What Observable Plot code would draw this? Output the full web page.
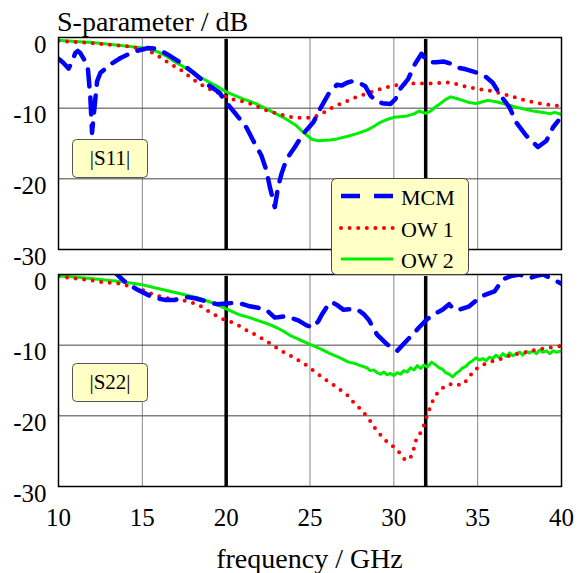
<!DOCTYPE html>
<html><head><meta charset="utf-8">
<script src="https://cdn.jsdelivr.net/npm/d3@7"></script>
<script src="https://cdn.jsdelivr.net/npm/@observablehq/plot@0.6"></script>
<style>
body{margin:0;background:#fff;}
#wrap{position:relative;width:587px;height:573px;color:#000;}
#wrap .txt{position:absolute;line-height:1;white-space:nowrap;}
#overlay{position:absolute;left:0;top:0;pointer-events:none;}
</style></head><body><div id="wrap" style="font-family:'Liberation Serif' !important"></div>
<script>
// ---------- data ----------
const panels = ["S11", "S22"];
const panelLabels = ["|S11|", "|S22|"];
const seriesNames = ["MCM", "OW 1", "OW 2"];
const xTicks = [10, 15, 20, 25, 30, 35, 40];
const yTicks = [0, -10, -20, -30];
const markerFreqs = [20, 31.9];
const yAxisTitle = "S-parameter / dB";
const xAxisTitle = "frequency / GHz";

// |S11|
const s11MCM = [[10,-3.0],[10.3,-3.6],[10.6,-4.4],[10.8,-3.5],[11.0,-2.2],[11.15,-1.9],[11.3,-2.2],[11.55,-3.2],[11.75,-4.3],[11.9,-8.5],[12.0,-13.5],[12.1,-11],[12.3,-6.2],[12.5,-5.0],[13.1,-3.8],[13.7,-2.9],[14.5,-2.0],[15.3,-1.5],[15.9,-1.6],[16.5,-2.4],[17.3,-3.6],[18.05,-5.0],[18.85,-6.6],[19.6,-7.8],[20.0,-9.2],[20.6,-10.9],[21.2,-12.7],[21.7,-15.0],[22.1,-16.7],[22.4,-18.8],[22.6,-21.1],[22.9,-24.0],[23.1,-21.1],[23.3,-19.3],[23.6,-17.2],[24.1,-15.5],[24.6,-13.6],[25.2,-12.0],[25.6,-10.1],[26.1,-8.0],[26.6,-6.7],[26.9,-6.8],[27.2,-6.4],[27.5,-6.2],[28.0,-6.5],[28.3,-6.9],[28.6,-8.2],[28.9,-8.9],[29.3,-9.3],[29.8,-9.4],[30.1,-8.7],[30.3,-7.5],[30.85,-5.9],[31.25,-3.8],[31.65,-2.3],[31.85,-2.9],[32.1,-3.5],[32.5,-3.5],[33.0,-3.4],[33.4,-3.7],[33.9,-4.3],[34.3,-4.5],[35.1,-5.1],[35.5,-5.6],[35.9,-6.4],[36.4,-8.3],[36.9,-9.9],[37.3,-12.0],[37.9,-13.9],[38.6,-15.5],[39.1,-14.6],[39.5,-12.7],[39.8,-11.8]];
const s11OW1 = [[10,-0.45],[10.5,-0.55],[11.5,-0.7],[12.7,-0.95],[13.5,-1.1],[14.3,-1.3],[15.3,-1.8],[15.8,-2.4],[16.25,-3.1],[16.8,-3.9],[17.3,-4.6],[17.9,-5.7],[18.45,-6.6],[19.0,-7.3],[19.5,-7.8],[20.0,-8.4],[20.5,-8.8],[21.1,-9.1],[21.6,-9.5],[22.1,-10.05],[22.6,-10.5],[23.1,-10.8],[23.6,-11.1],[24.1,-11.35],[24.7,-11.4],[25.2,-11.3],[25.7,-10.8],[26.2,-10.1],[26.7,-9.5],[27.2,-9.0],[27.7,-8.5],[28.2,-8.1],[28.7,-7.7],[29.2,-7.3],[29.8,-6.9],[30.5,-6.6],[31.35,-6.5],[32.3,-6.5],[33.3,-6.35],[33.9,-6.7],[34.4,-7.0],[34.9,-7.25],[35.4,-7.4],[35.9,-7.6],[36.5,-8.0],[37.0,-8.3],[37.5,-8.7],[38.0,-9.0],[38.6,-9.3],[39.1,-9.5],[39.5,-9.6],[40,-9.7]];
const s11OW2 = [[10,-0.4],[11,-0.55],[12,-0.7],[13,-0.95],[14,-1.2],[15.1,-1.5],[15.9,-2.0],[16.4,-2.6],[16.9,-3.4],[17.5,-4.2],[18.0,-5.0],[18.6,-5.8],[19.2,-6.6],[19.6,-7.1],[20.0,-7.7],[20.5,-8.2],[21.0,-8.7],[21.4,-9.0],[21.8,-9.4],[22.4,-10.1],[22.9,-10.7],[23.4,-11.3],[23.8,-11.9],[24.2,-12.5],[24.5,-13.2],[24.8,-13.8],[25.1,-14.4],[25.5,-14.6],[26.2,-14.5],[26.6,-14.35],[27.2,-14.0],[27.8,-13.6],[28.4,-13.1],[28.8,-12.6],[29.2,-12.0],[29.6,-11.6],[30.0,-11.3],[30.4,-11.2],[30.8,-11.1],[31.2,-10.8],[31.5,-10.4],[31.9,-10.75],[32.2,-10.4],[32.5,-9.8],[32.8,-9.3],[33.1,-8.75],[33.4,-8.4],[33.7,-8.6],[34.1,-8.9],[34.5,-9.2],[34.9,-9.35],[35.3,-9.1],[35.6,-8.9],[36.1,-9.1],[36.7,-9.45],[37.2,-9.8],[37.7,-10.1],[38.3,-10.4],[38.9,-10.6],[39.3,-10.8],[39.6,-10.6],[40,-10.9]];

// |S22|
const s22MCM = [[13.2,0.6],[13.5,0],[13.9,-0.9],[14.2,-1.4],[14.6,-2.0],[15.1,-2.6],[15.5,-3.1],[15.9,-3.4],[16.4,-3.6],[16.9,-3.6],[17.3,-3.4],[17.7,-3.2],[18.2,-3.4],[18.65,-3.7],[19.45,-4.2],[20.0,-4.1],[20.6,-4.0],[21.0,-4.2],[21.4,-4.5],[21.9,-4.7],[22.4,-5.0],[22.9,-6.1],[23.2,-6.0],[23.6,-5.9],[24.3,-6.5],[24.8,-7.2],[25.2,-7.5],[25.5,-6.6],[25.7,-5.7],[26.0,-4.6],[26.3,-3.9],[26.6,-4.3],[27.0,-5.0],[27.4,-4.9],[27.8,-4.9],[28.2,-5.6],[28.5,-6.4],[29.0,-8.5],[29.6,-9.9],[30.2,-10.8],[30.75,-9.4],[31.2,-8.3],[31.5,-7.5],[31.95,-6.4],[32.4,-5.6],[32.9,-5.0],[33.3,-4.2],[33.6,-5.0],[34.0,-4.9],[34.5,-4.5],[35.2,-3.1],[36.0,-2.4],[36.5,-0.7],[37.0,-0.2],[37.5,0],[38.1,-0.5],[38.5,-0.2],[38.9,0],[39.5,-0.7],[40,-1.3]];
const s22OW1 = [[10,-0.3],[11.1,-0.6],[12.0,-0.85],[12.7,-1.1],[13.7,-1.3],[14.3,-1.7],[14.9,-2.1],[15.4,-2.6],[15.9,-3.0],[16.4,-3.3],[16.9,-3.5],[17.5,-3.7],[18.0,-4.0],[18.5,-4.5],[18.95,-5.2],[19.4,-5.8],[19.8,-6.3],[20.4,-6.8],[20.8,-7.3],[21.3,-8.0],[21.8,-8.6],[22.3,-9.3],[22.8,-10.0],[23.2,-10.7],[23.7,-11.3],[24.2,-12.0],[24.7,-12.7],[25.1,-13.4],[25.6,-14.3],[26.0,-15.0],[26.45,-15.7],[26.9,-16.5],[27.3,-17.2],[27.6,-18.1],[28.0,-19.0],[28.4,-20.1],[28.7,-21.1],[29.0,-22.2],[29.3,-22.9],[29.6,-23.7],[30.0,-24.4],[30.3,-25.1],[30.65,-26.2],[30.85,-26.3],[31.05,-25.7],[31.2,-24.6],[31.35,-23.2],[31.65,-22.2],[31.85,-21.0],[32.0,-19.8],[32.2,-18.6],[32.4,-17.4],[32.7,-16.5],[33.1,-15.7],[33.6,-15.4],[34.0,-15.7],[34.4,-14.9],[34.7,-13.8],[35.1,-13.0],[35.6,-12.5],[36.1,-12.1],[36.5,-11.9],[37.0,-11.4],[37.5,-11.2],[38.0,-10.9],[38.4,-10.7],[38.9,-10.5],[39.4,-10.3],[40,-10.1]];
const s22OW2 = [[10,-0.2],[11,-0.35],[12.5,-0.7],[13.7,-1.0],[14.9,-1.4],[15.8,-1.9],[16.7,-2.4],[17.6,-2.9],[18.45,-3.4],[19.3,-4.1],[20.0,-4.85],[20.8,-5.7],[21.4,-6.1],[22.0,-6.6],[22.5,-7.0],[23.0,-7.5],[23.4,-8.0],[23.8,-8.6],[24.4,-9.25],[25.0,-9.9],[25.6,-10.5],[26.2,-11.2],[26.8,-11.8],[27.3,-12.4],[27.7,-12.6],[28.0,-12.9],[28.4,-13.2],[28.6,-13.6],[28.8,-13.5],[29.0,-13.9],[29.2,-14.1],[29.4,-13.8],[29.6,-14.2],[29.8,-14.0],[30.0,-14.3],[30.2,-13.9],[30.4,-14.1],[30.6,-13.6],[30.8,-13.8],[31.0,-13.2],[31.2,-13.5],[31.4,-12.9],[31.6,-13.3],[31.8,-12.8],[32.0,-13.1],[32.25,-12.4],[32.5,-12.8],[32.7,-13.2],[32.9,-13.4],[33.1,-13.9],[33.3,-14.1],[33.5,-14.5],[33.7,-14.0],[33.9,-13.7],[34.1,-13.2],[34.3,-13.0],[34.5,-12.5],[34.7,-12.2],[34.9,-11.8],[35.1,-12.1],[35.3,-11.9],[35.5,-12.2],[35.7,-11.7],[35.9,-11.9],[36.1,-11.4],[36.3,-11.8],[36.5,-11.2],[36.7,-11.6],[36.9,-11.1],[37.1,-11.5],[37.3,-11.2],[37.5,-11.0],[37.7,-11.4],[37.9,-10.9],[38.1,-11.1],[38.3,-10.8],[38.5,-11.2],[38.7,-10.7],[38.9,-11.0],[39.1,-10.8],[39.3,-11.2],[39.5,-10.8],[39.7,-11.0],[40,-10.8]];

// ---------- build table ----------
const rows = [];
function add(panel, series, pts) { for (const [f, db] of pts) rows.push({panel, series, f, db}); }
add("S11", "MCM", s11MCM); add("S11", "OW 1", s11OW1); add("S11", "OW 2", s11OW2);
add("S22", "MCM", s22MCM); add("S22", "OW 1", s22OW1); add("S22", "OW 2", s22OW2);

const styles = {
  "MCM":  {stroke: "#0000ff", strokeWidth: 4.5, strokeDasharray: "17,11"},
  "OW 1": {stroke: "#ff0000", strokeWidth: 4, strokeDasharray: "0,8.6", strokeLinecap: "round"},
  "OW 2": {stroke: "#00ee00", strokeWidth: 3}
};
const FONT = "Liberation Serif";

const chart = Plot.plot({
  width: 587, height: 573,
  marginLeft: 58, marginRight: 26, marginTop: 36, marginBottom: 86,
  style: {fontSize: "25px", background: "transparent", color: "black"},
  x: {domain: [10, 40]},
  y: {domain: [-30, 0]},
  fy: {domain: panels, paddingInner: 0.105, paddingOuter: 0, axis: null, label: null},
  marks: [
    Plot.gridX({ticks: xTicks.slice(1, -1), stroke: "#888", strokeOpacity: 1, strokeWidth: 1}),
    Plot.gridY({ticks: yTicks.slice(1, -1), stroke: "#444", strokeOpacity: 1, strokeWidth: 1}),
    Plot.ruleX(markerFreqs, {x: d => d, stroke: "black", strokeWidth: 3.5, insetTop: 2}),
    ...seriesNames.slice().reverse().map(s =>
      Plot.line(rows.filter(r => r.series === s), {x: "f", y: "db", fy: "panel", clip: true, ...styles[s]})
    ),
    Plot.frame({stroke: "black", strokeWidth: 1.5}),
    Plot.axisY({ticks: yTicks, tickSize: 0, tickPadding: 12, tickFormat: d => String(d), dy: 7, label: null}),
    Plot.axisX({ticks: xTicks, tickSize: 0, tickPadding: 22, tickFormat: d => String(d), label: null})
  ]
});
chart.style.setProperty("font-family", FONT, "important");

const wrap = document.getElementById("wrap");
wrap.appendChild(chart);

function addText(str, css) {
  const d = document.createElement("div");
  d.className = "txt"; d.textContent = str;
  Object.assign(d.style, css);
  wrap.appendChild(d);
}
addText(yAxisTitle, {left: "57px", top: "8px", fontSize: "28px"});
addText(xAxisTitle, {left: "0px", width: "619px", textAlign: "center", top: "545px", fontSize: "28px"});

// overlay: panel labels and legend
const ns = "http://www.w3.org/2000/svg";
const ov = document.createElementNS(ns, "svg");
ov.setAttribute("id", "overlay"); ov.setAttribute("width", 587); ov.setAttribute("height", 573);
wrap.appendChild(ov);
function el(tag, attrs, text) {
  const e = document.createElementNS(ns, tag);
  for (const k in attrs) e.setAttribute(k, attrs[k]);
  if (text != null) e.textContent = text;
  ov.appendChild(e); return e;
}
const labelBoxes = [{x: 72, y: 139}, {x: 72, y: 363}];
panelLabels.forEach((t, i) => {
  const b = labelBoxes[i];
  el("rect", {x: b.x + 0.5, y: b.y + 0.5, width: 75, height: 38, rx: 4, fill: "#ffffc6", stroke: "#555", "stroke-width": 1});
  el("text", {x: b.x + 38, y: b.y + 26, "text-anchor": "middle", "font-size": 21}, t);
});
el("rect", {x: 331.5, y: 178.5, width: 137, height: 96, rx: 5, fill: "#ffffc6", stroke: "#444", "stroke-width": 1});
const legY = [196, 228, 259];
seriesNames.forEach((s, i) => {
  const st = styles[s];
  el("line", {x1: 341, x2: 393, y1: legY[i], y2: legY[i], stroke: st.stroke, "stroke-width": st.strokeWidth,
    "stroke-dasharray": s === "MCM" ? "19,14" : (st.strokeDasharray || "none"), "stroke-linecap": st.strokeLinecap || "butt"});
  el("text", {x: 401, y: legY[i] + 9, "font-size": 22}, s);
});
// force the serif face on every text node
wrap.querySelectorAll("text, .txt").forEach(n => n.style.setProperty("font-family", FONT, "important"));
</script>
</body></html>
